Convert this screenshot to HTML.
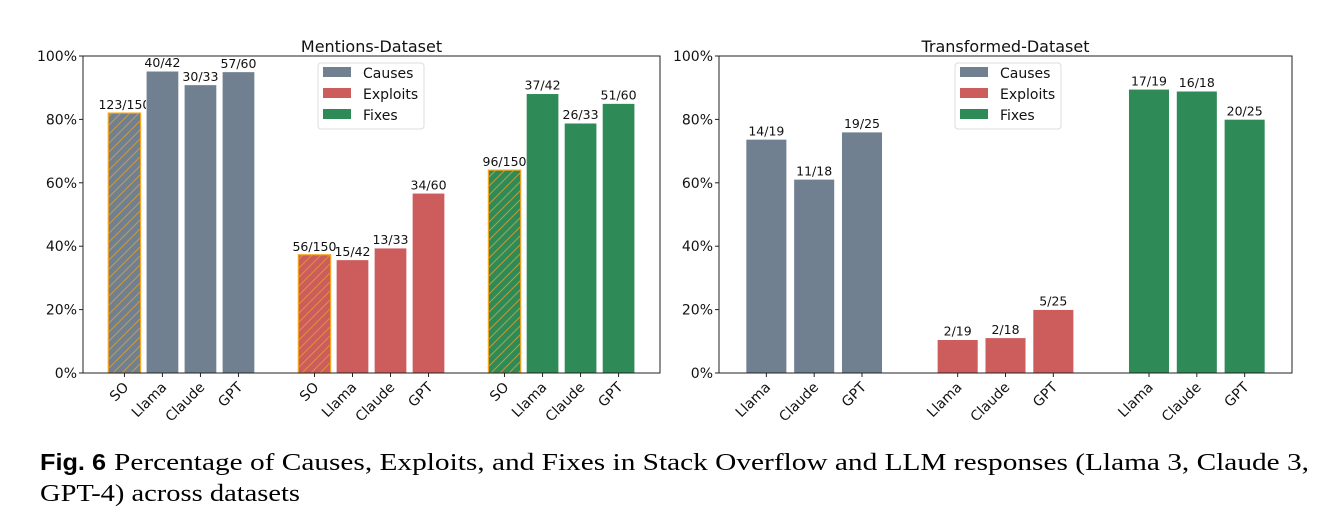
<!DOCTYPE html>
<html><head><meta charset="utf-8"><style>
html,body{margin:0;padding:0;background:#fff;}
svg{display:block;font-family:"DejaVu Sans","Liberation Sans",sans-serif;}
</style></head><body>
<svg id="fig" width="1336" height="532" viewBox="0 0 1336 532" xmlns="http://www.w3.org/2000/svg">
<defs>
<pattern id="hatch" patternUnits="userSpaceOnUse" width="9" height="9">
<path d="M-1,10 L10,-1 M-1,1 L1,-1 M8,10 L10,8" stroke="#e0a030" stroke-width="1" opacity="0.8"/>
</pattern>
</defs>
<g id="left"></g>
<g id="right"></g>
<text x="40" y="470" font-family="'Liberation Sans',sans-serif" font-weight="bold" font-size="23" textLength="66" lengthAdjust="spacingAndGlyphs">Fig. 6</text>
<text x="114" y="470" font-family="'Liberation Serif',serif" font-size="24" textLength="1195" lengthAdjust="spacingAndGlyphs">Percentage of Causes, Exploits, and Fixes in Stack Overflow and LLM responses (Llama 3, Claude 3,</text>
<text x="40" y="501" font-family="'Liberation Serif',serif" font-size="24" textLength="260" lengthAdjust="spacingAndGlyphs">GPT-4) across datasets</text>
</svg>
<script>
const groups = ["Causes","Exploits","Fixes"];
const leftModels = ["SO","Llama","Claude","GPT"];
const leftValues = [[82.0,95.2,90.9,95.0],[37.3,35.7,39.4,56.7],[64.0,88.1,78.8,85.0]];
const leftLabels = [["123/150","40/42","30/33","57/60"],["56/150","15/42","13/33","34/60"],["96/150","37/42","26/33","51/60"]];
const rightModels = ["Llama","Claude","GPT"];
const rightValues = [[73.7,61.1,76.0],[10.5,11.1,20.0],[89.5,88.9,80.0]];
const rightLabels = [["14/19","11/18","19/25"],["2/19","2/18","5/25"],["17/19","16/18","20/25"]];
const yTicks = [0,20,40,60,80,100];
const colors = ["#708090","#cd5c5c","#2e8b57"];
const NS="http://www.w3.org/2000/svg";
function mk(p,t,a,txt){const e=document.createElementNS(NS,t);for(const k in a)e.setAttribute(k,a[k]);if(txt!=null)e.textContent=txt;p.appendChild(e);return e;}
function chart(root,x0,x1,title,models,values,labels,gap,hatchFirst){
  const y0=56,y1=373;
  const n=models.length, step=gap+n;
  const maxU=(groups.length-1)*step+n-1;
  const pad=hatchFirst?1.09:0.99;
  const xs=u=>x0+(u+pad)/(maxU+2*pad)*(x1-x0);
  const ys=v=>y1-(v/100)*(y1-y0);
  const bw=0.85*(xs(1)-xs(0));
  groups.forEach((g,gi)=>{
    models.forEach((m,mi)=>{
      const u=gi*step+mi, cx=xs(u), v=values[gi][mi];
      const r=mk(root,"rect",{x:cx-bw/2,y:ys(v),width:bw,height:ys(0)-ys(v),fill:colors[gi],stroke:"#fff","stroke-width":0.6});
      
      
      if(hatchFirst&&mi===0){
        r.setAttribute('stroke','#f5a623');r.setAttribute('stroke-width','1.2');
        const h=mk(root,"rect",{x:cx-bw/2,y:ys(v),width:bw,height:ys(0)-ys(v),fill:"url(#hatch)"});
        
        
      }
      const t=mk(root,"text",{x:cx,y:ys(v)-4,"text-anchor":"middle","font-size":12.5,fill:"#111"},labels[gi][mi]);
      
      
      const tk=mk(root,"line",{x1:cx,x2:cx,y1:y1,y2:y1+4,stroke:"#222"});
      
      
      const xl=mk(root,"text",{x:0,y:0,"text-anchor":"end","font-size":14,fill:"#111",transform:`translate(${cx+5},${y1+15}) rotate(-45)`},m);
      
      
    });
  });
  const fr=mk(root,"rect",{x:x0,y:y0,width:x1-x0,height:y1-y0,fill:"none",stroke:"#222","stroke-width":1});
  
  
  yTicks.forEach(t=>{
    const l=mk(root,"line",{x1:x0-4,x2:x0,y1:ys(t),y2:ys(t),stroke:"#222"});
    
    
    const tx=mk(root,"text",{x:x0-6,y:ys(t)+5,"text-anchor":"end","font-size":14,fill:"#111"},t+"%");
    
    
  });
  const ti=mk(root,"text",{x:(x0+x1)/2,y:y0-4,"text-anchor":"middle","font-size":16,fill:"#111"},title);
  
  
  const lx=hatchFirst?318:955;
  const lg=mk(root,"g",{});
  
  
  mk(lg,"rect",{x:lx,y:63,width:106,height:66,rx:3,fill:"#fff",stroke:"#ddd"});
  groups.forEach((g,i)=>{
    const e=mk(lg,"g",{});
    
    
    mk(e,"rect",{x:lx+5,y:67+i*21,width:28,height:10,fill:colors[i]});
    mk(e,"text",{x:lx+45,y:78+i*21,"font-size":14,fill:"#111"},g);
  });
}
chart(document.getElementById('left'),83,660,"Mentions-Dataset",leftModels,leftValues,leftLabels,1,true);
chart(document.getElementById('right'),719,1292,"Transformed-Dataset",rightModels,rightValues,rightLabels,1,false);
</script>
</body></html>
